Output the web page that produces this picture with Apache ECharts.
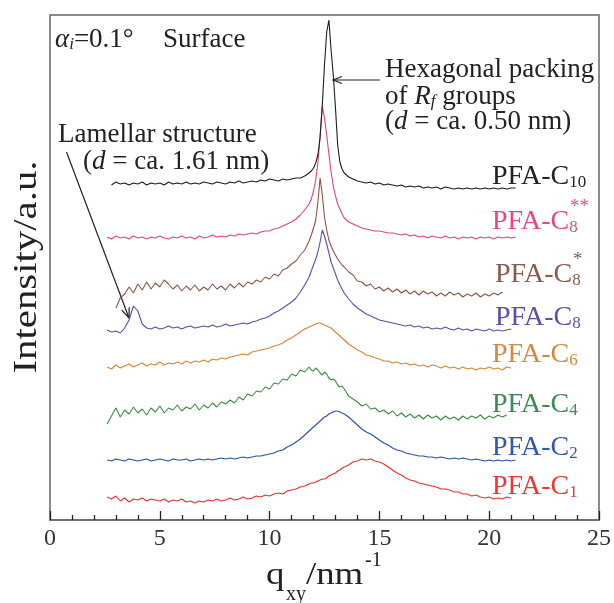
<!DOCTYPE html>
<html>
<head>
<meta charset="utf-8">
<title>GIXD in-plane profiles</title>
<script src="https://cdn.jsdelivr.net/npm/echarts@6/dist/echarts.min.js"></script>
<style>
  html, body { margin: 0; padding: 0; background: #fff; }
  #chart { width: 614px; height: 603px; }
</style>
</head>
<body>
<div id="chart"></div>
<script>
// q sampling (nm^-1): 0.2 step, 0.1 step around the main peak
function seg(a, b, step) {
  let out = []
  let n = Math.round((b - a) / step)
  for (let i = 0; i <= n; i++) out.push(+(a + i * step).toFixed(2))
  return out
}
const qGrid = [].concat(seg(2.6, 11.6, 0.2), seg(11.8, 13.4, 0.1), seg(13.6, 21.2, 0.2))

// intensities (a.u., stacked offsets included)
const pfaC1 = [23,21,24,19,22,18,21,20,22,19, 21,20,19,21,18,20,19,21,18,19, 17,19,18,20,19,21,19,20,22,20, 21,23,21,22,24,23,25,24,26,27, 26,29,30,31,33,34,
  36,37,37,38,39,40,41,41,42,44,45,46,47,49,50,52,53,
  55,58,59,61,60,61,59,58,56,53, 50,47,45,42,40,39,37,36,35,34, 33,31,31,30,28,28,26,26,24,25, 23,22,23,21,22,21,23,22,null]
const pfaC2 = [60,59,61,60,59,61,60,59,60,61, 59,60,61,60,59,61,60,60,61,59, 60,61,60,61,60,61,62,61,62,61, 62,63,62,63,64,64,65,66,67,69, 70,73,75,78,81,85,
  89,91,93,95,97,99,101,103,104,106,107,108,109,109,108,107,106,
  103,99,95,91,88,86,83,80,77,75, 72,70,69,67,66,65,64,64,63,63, 62,63,62,61,62,61,62,61,60,61, 60,59,60,59,60,59,60,59,60]
const pfaC4 = [96,104,112,103,110,106,113,107,111,105, 112,108,114,107,112,110,115,109,113,111, 116,110,115,112,117,113,118,116,120,117, 123,120,126,124,129,128,133,131,137,136, 141,140,146,144,150,148,
  153,150,149,152,150,147,145,148,146,142,140,141,139,135,133,134,131,
  124,121,118,114,116,111,112,108,110,106, 109,104,107,103,106,102,105,101,105,102, 104,100,104,101,103,100,104,101,104,102, 105,101,104,102,105,103,105,null,null]
const pfaC6 = [153,151,155,152,154,156,153,155,157,154, 156,155,158,155,157,156,158,156,159,157, 159,158,160,158,161,160,162,161,163,164, 165,166,165,168,169,170,171,172,174,175, 177,180,182,185,188,191,
  193,194,195,196,197,197,196,195,194,193,192,190,188,186,184,182,180,
  176,173,170,168,165,164,162,161,159,159, 157,158,156,157,155,156,154,155,153,155, 154,152,154,152,153,151,153,151,152,150, 152,151,153,151,152,150,153,152,null]
const pfaC8 = [190,188,189,187,192,200,214,209,196,192, 191,193,191,192,194,192,193,191,193,194, 192,193,194,193,195,193,194,196,194,195, 196,197,196,198,199,201,202,204,207,209, 212,215,218,222,228,235,
  243,249,255,261,268,278,290,284,276,267,258,252,246,240,235,231,227,
  221,216,212,209,206,204,202,200,199,198, 197,196,195,194,195,193,194,192,193,191, 192,191,193,191,190,192,190,191,189,191, 190,189,191,189,190,189,190,191,null]
const pfaC8s = [null,null,212,222,226,233,227,236,230,238, 231,237,233,240,236,231,235,229,234,230, 235,229,233,230,236,231,234,230,236,232, 237,233,238,236,240,238,243,241,246,244, 250,252,256,259,265,270,
  279,285,292,300,318,342,325,303,290,280,274,269,265,261,258,255,253,
  248,245,239,238,234,236,231,233,229,232, 228,231,227,230,226,229,225,229,226,228, 224,227,224,228,225,227,223,226,224,227, 223,226,224,227,225,228,null,null,null]
const pfaC8ss = [283,281,284,282,283,281,284,282,283,281, 283,282,284,282,281,283,282,284,282,283, 281,284,282,283,285,283,284,283,285,284, 286,285,286,287,286,288,289,289,291,292, 294,296,298,301,305,310,
  316,321,329,340,357,384,414,402,385,366,348,334,324,316,311,306,302,
  298,296,294,292,291,290,289,289,288,287, 287,286,285,286,284,285,283,284,282,284, 283,282,284,282,283,281,283,282,283,281, 283,282,283,281,283,282,283,282,283]
const pfaC10 = [null,335,338,336,337,335,337,336,338,335, 337,336,337,335,338,336,337,336,338,336, 337,336,338,337,336,338,337,336,338,337, 339,337,338,339,338,340,339,341,340,339, 341,340,341,342,342,344,
  347,349,352,357,365,383,415,455,488,500,470,445,412,375,358,351,347,
  343,341,339,338,337,338,336,337,335,336, 335,334,335,333,334,333,334,332,333,332, 333,331,333,332,331,332,331,332,331,332, 331,332,331,332,331,332,331,332,332]

const seriesNames = ['PFA-C1', 'PFA-C2', 'PFA-C4', 'PFA-C6', 'PFA-C8', 'PFA-C8*', 'PFA-C8**', 'PFA-C10']
const seriesValues = [pfaC1, pfaC2, pfaC4, pfaC6, pfaC8, pfaC8s, pfaC8ss, pfaC10]
const labelSub = ['1', '2', '4', '6', '8', '8', '8', '10']
const labelSup = ['', '', '', '', '', '*', '**', '']
const xTicks = [0, 5, 10, 15, 20, 25]

// styling
const lineColors = ['#e6302c', '#2c4ea6', '#3b8a45', '#d4862e', '#5a4fa6', '#8a5646', '#e0447c', '#1e1e1e']
const textColors = ['#e23a3a', '#3656a8', '#3d8a52', '#d28a42', '#5a52a8', '#8a5a4c', '#e04a80', '#222']
const labelX = [492, 492, 492, 492, 495, 495, 492, 492]
const labelY = [487, 448, 405, 355, 318, 275, 222, 177]

const SERIF = '"Liberation Serif", "Times New Roman", serif'

let chart = echarts.init(document.getElementById('chart'), null, { renderer: 'canvas' })

let series = seriesValues.map((vals, i) => ({
  name: seriesNames[i],
  type: 'line',
  data: qGrid.map((q, j) => [q, vals[j]]),
  showSymbol: false,
  connectNulls: false,
  lineStyle: { color: lineColors[i], width: 1.1 },
  itemStyle: { color: lineColors[i] },
  z: 2 + i
}))

let graphics = []

// series labels on the right
seriesNames.forEach((name, i) => {
  graphics.push({
    type: 'text', x: labelX[i], y: labelY[i],
    style: {
      text: 'PFA-C{s|' + labelSub[i] + '}',
      fill: textColors[i],
      font: '28px ' + SERIF,
      align: 'left', verticalAlign: 'middle',
      rich: { s: { fontSize: 17, fontFamily: SERIF, fill: textColors[i], verticalAlign: 'bottom', lineHeight: 17 } }
    }
  })
  if (labelSup[i]) {
    graphics.push({
      type: 'text', x: labelSup[i].length > 1 ? 570 : 573, y: labelY[i] - 15,
      style: { text: labelSup[i], fill: textColors[i], font: '19px ' + SERIF, align: 'left', verticalAlign: 'middle' }
    })
  }
})

const richBase = {
  i: { fontSize: 27, fontFamily: SERIF, fontStyle: 'italic', fill: '#222' },
  s: { fontSize: 17, fontFamily: SERIF, fontStyle: 'italic', fill: '#222', verticalAlign: 'bottom', lineHeight: 17 }
}
function note(x, y, text) {
  return {
    type: 'text', x: x, y: y,
    style: { text: text, fill: '#222', font: '27px ' + SERIF, align: 'left', verticalAlign: 'middle', rich: richBase }
  }
}
graphics.push(note(55, 40, '{i|α}{s|i}=0.1°'))
graphics.push(note(163, 40, 'Surface'))
graphics.push(note(385, 70, 'Hexagonal packing'))
graphics.push(note(385, 97, 'of {i|R}{s|f} groups'))
graphics.push(note(385, 122, '({i|d} = ca. 0.50 nm)'))
graphics.push(note(58, 135, 'Lamellar structure'))
graphics.push(note(83, 162, '({i|d} = ca. 1.61 nm)'))

// arrows
graphics.push({ type: 'line', shape: { x1: 380, y1: 80, x2: 333, y2: 80 }, style: { stroke: '#222', lineWidth: 1.2 } })
graphics.push({ type: 'polyline', shape: { points: [[342, 76.5], [333, 80], [342, 83.5]] }, style: { stroke: '#222', lineWidth: 1.2, fill: null } })
let tip = [129, 318], tail = [66.5, 152]
let dx = tip[0] - tail[0], dy = tip[1] - tail[1], len = Math.sqrt(dx * dx + dy * dy)
let ux = dx / len, uy = dy / len
graphics.push({ type: 'line', shape: { x1: tail[0], y1: tail[1], x2: tip[0], y2: tip[1] }, style: { stroke: '#222', lineWidth: 1.2 } })
graphics.push({
  type: 'polyline',
  shape: { points: [
    [tip[0] - ux * 10 - uy * 4, tip[1] - uy * 10 + ux * 4], tip,
    [tip[0] - ux * 10 + uy * 4, tip[1] - uy * 10 - ux * 4]
  ] },
  style: { stroke: '#222', lineWidth: 1.2, fill: null }
})

// axis titles
graphics.push({
  type: 'text', x: 27, y: 267, rotation: Math.PI / 2, scaleX: 1.2,
  style: { text: 'Intensity/a.u.', fill: '#222', font: '34px ' + SERIF, align: 'center', verticalAlign: 'middle' }
})
graphics.push({ type: 'text', x: 266, y: 576, scaleX: 1.15, style: { text: 'q', fill: '#222', font: '32px ' + SERIF, align: 'left', verticalAlign: 'middle' } })
graphics.push({ type: 'text', x: 286, y: 595, style: { text: 'xy', fill: '#222', font: '20px ' + SERIF, align: 'left', verticalAlign: 'middle' } })
graphics.push({ type: 'text', x: 306, y: 576, scaleX: 1.15, style: { text: '/nm', fill: '#222', font: '32px ' + SERIF, align: 'left', verticalAlign: 'middle' } })
graphics.push({ type: 'text', x: 365, y: 561, style: { text: '-1', fill: '#222', font: '20px ' + SERIF, align: 'left', verticalAlign: 'middle' } })

let option = {
  backgroundColor: '#fff',
  animation: false,
  grid: {
    left: 50, right: 14, top: 15, bottom: 83,
    show: true, borderColor: '#666', borderWidth: 1.5, backgroundColor: 'transparent'
  },
  xAxis: {
    type: 'value', min: 0, max: 25, interval: 5, position: 'bottom', z: 10,
    axisLine: { show: true, onZero: false, lineStyle: { color: '#666', width: 1.5 } },
    // ticks point up into the plot, as in the figure
    axisTick: { show: true, inside: false, length: -9, lineStyle: { color: '#222', width: 1.3 } },
    minorTick: { show: true, splitNumber: 5, length: -5, lineStyle: { color: '#222', width: 1.3 } },
    splitLine: { show: false },
    axisLabel: {
      margin: 7, color: '#333', fontSize: 24, fontFamily: SERIF,
      formatter: v => (xTicks.indexOf(v) >= 0 ? String(v) : '')
    }
  },
  yAxis: {
    type: 'value', min: 0, max: 505,
    axisLine: { show: false }, axisTick: { show: false },
    axisLabel: { show: false }, splitLine: { show: false }
  },
  series: series,
  graphic: { elements: graphics }
}
chart.setOption(option)
</script>
</body>
</html>
